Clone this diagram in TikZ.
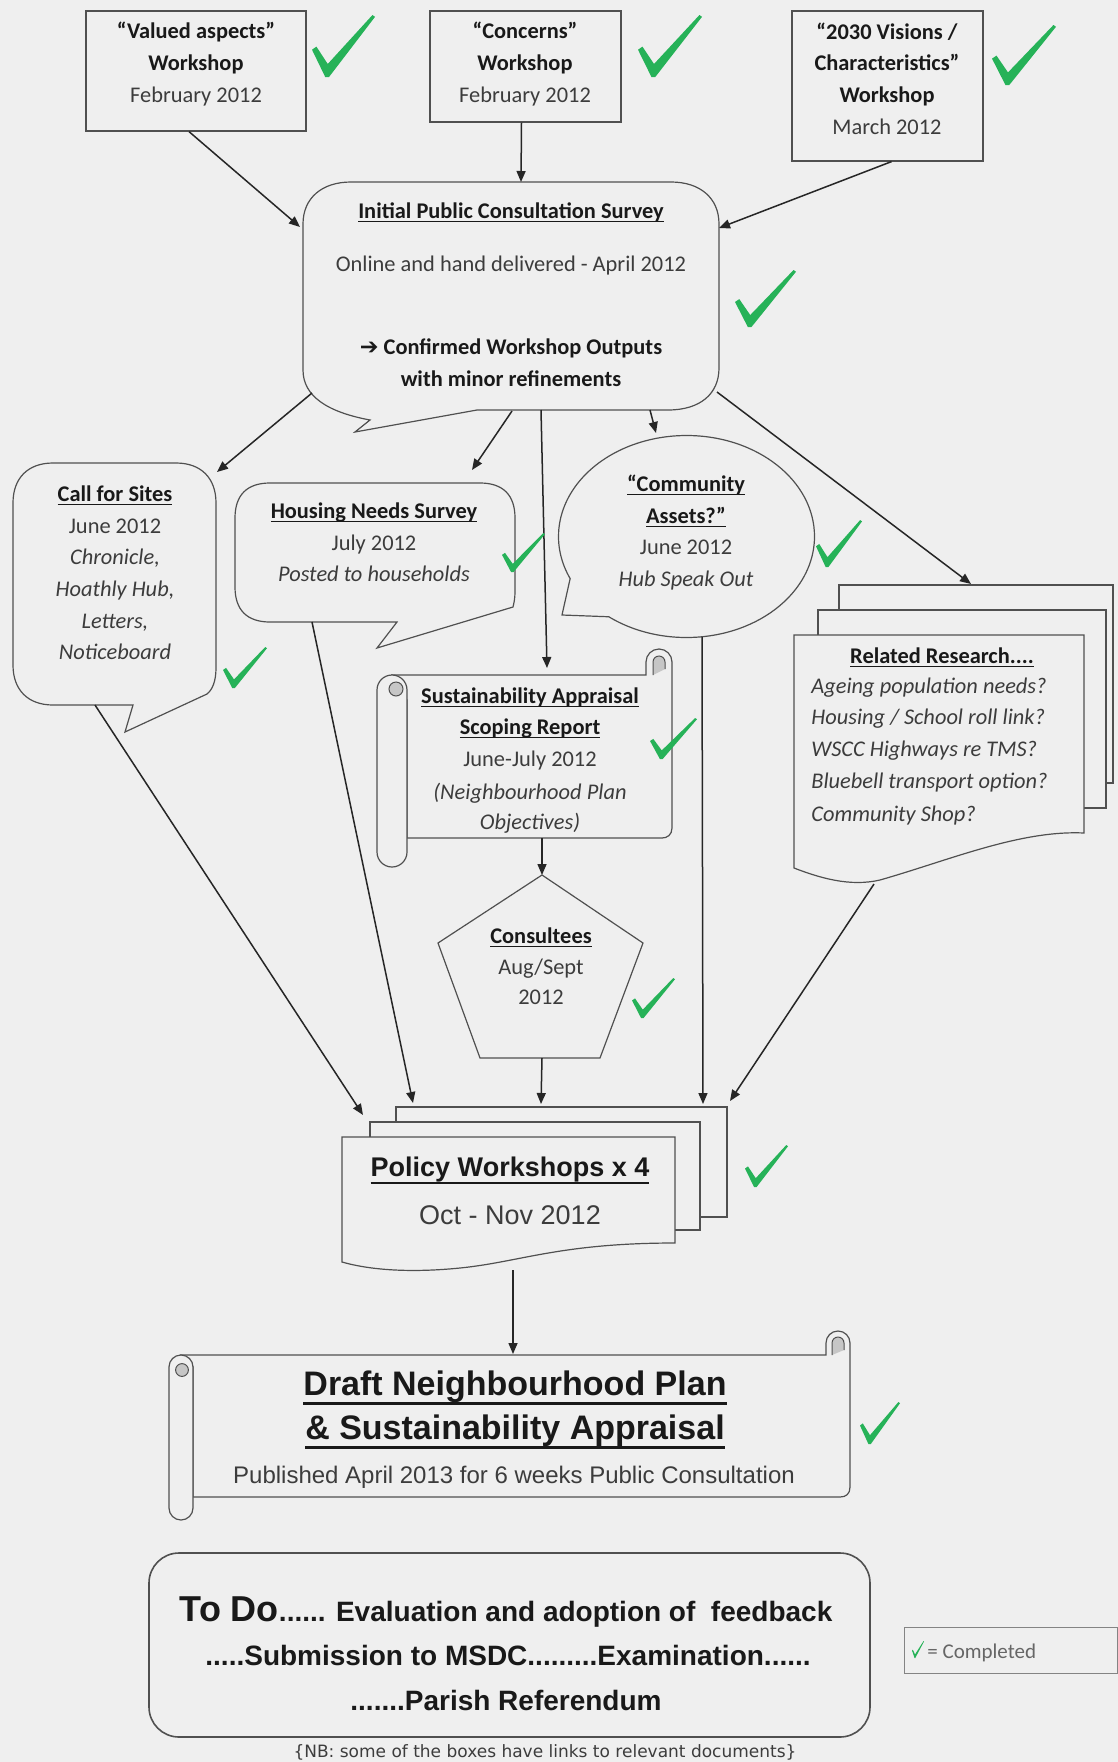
\documentclass[tikz,border=0pt]{standalone}
\usepackage{fontspec}
\setmainfont{Carlito}
\newfontfamily\arialf{Liberation Sans}
\newfontfamily\dejavu{DejaVu Sans}
\usetikzlibrary{arrows.meta,shapes.callouts,calc}
\definecolor{bg}{RGB}{239,239,239}
\definecolor{edge}{RGB}{80,80,80}
\definecolor{tickgreen}{RGB}{38,178,88}
\definecolor{txt}{RGB}{60,60,60}
\newsavebox\ulbox
\newcommand\myul[3]{\sbox\ulbox{#3}\rlap{\rule[-#2]{\wd\ulbox}{#1}}\usebox\ulbox}
\newcommand\ulc[1]{\myul{0.55pt}{1.8pt}{#1}}
\newcommand\greencheck[4]{\begin{scope}[shift={(#1,#2)},xscale=#3,yscale=#4]
 \fill[tickgreen] (0,0.56) -- (0.07,0.51) -- (0.25,0.79) -- (0.96,0) -- (1,0.03) -- (0.27,1) -- (0.21,1) -- cycle;
 \end{scope}}
\begin{document}
\begin{tikzpicture}[x=0.5pt,y=-0.5pt,
  shp/.style={draw=edge, line width=0.6pt, fill=bg},
  conn/.style={draw=black!85, line width=0.75pt, -{Triangle[length=5.5pt,width=4.5pt]}},
  hid/.style={inner sep=0pt, outer sep=0pt, draw=none},
  tx/.style={anchor=base, inner sep=0pt, text=txt, font=\fontsize{11.2}{13}\selectfont},
  txb/.style={anchor=base, inner sep=0pt, text=black!90, font=\fontsize{11.2}{13}\selectfont\bfseries},
  txi/.style={anchor=base, inner sep=0pt, text=txt, font=\fontsize{11.2}{13}\selectfont\itshape},
  ar/.style={anchor=base, inner sep=0pt, text=black!90, font=\fontsize{#1}{#1}\selectfont\arialf\bfseries},
  arr/.style={anchor=base, inner sep=0pt, text=txt, font=\fontsize{#1}{#1}\selectfont\arialf}
]
\fill[bg] (0,0) rectangle (1118,1762);
\useasboundingbox (0,0) rectangle (1118,1762);

% ---------- top workshop boxes ----------
\node[shp, minimum width=110pt, minimum height=60pt, inner sep=0pt] (box1) at (196,71) {};
\node[shp, minimum width=95.5pt, minimum height=55.5pt, inner sep=0pt] (box2) at (525.5,66.5) {};
\node[shp, minimum width=95.5pt, minimum height=75pt, inner sep=0pt] (box3) at (887.5,86) {};
\node[txb] (b1a) at (196,38) {“Valued aspects”};
\node[txb] (b1b) at (196,70) {Workshop};
\node[tx]  (b1c) at (196,102) {February 2012};
\node[txb] (b2a) at (525,38) {“Concerns”};
\node[txb] (b2b) at (525,70) {Workshop};
\node[tx]  (b2c) at (525,102) {February 2012};
\node[txb] (b3a) at (887,39) {“2030 Visions /};
\node[txb] (b3b) at (887,70) {Characteristics”};
\node[txb] (b3c) at (887,102) {Workshop};
\node[tx]  (b3d) at (887,134) {March 2012};

% ---------- survey callout ----------
\draw[shp] (351,182) -- (671,182) .. controls (700,182) and (719,198) .. (719,224) -- (719,368)
  .. controls (719,394) and (700,410) .. (668,410) -- (477,410) -- (355,432) -- (370,420)
  .. controls (327,412) and (303,396) .. (303,370) -- (303,224) .. controls (303,198) and (322,182) .. (351,182) -- cycle;
\node[hid, minimum width=208pt, minimum height=114pt] (survey) at (511,296) {};
\node[txb] (s1) at (511,218) {\ulc{Initial Public Consultation Survey}};
\node[tx]  (s2) at (511,271) {Online and hand delivered - April 2012};
\node[txb] (s3) at (511,354) {{\dejavu ➔} Confirmed Workshop Outputs};
\node[txb] (s4) at (511,386) {with minor refinements};

% ---------- call for sites ----------
\draw[shp] (53,463) -- (176,463) .. controls (201,463) and (216,478) .. (216,503) -- (216,668)
  .. controls (216,682) and (212,690) .. (207,694) -- (125,732) -- (133,705) -- (53,705)
  .. controls (28,705) and (13,690) .. (13,665) -- (13,503) .. controls (13,478) and (28,463) .. (53,463) -- cycle;
\node[hid, minimum width=101.5pt, minimum height=121pt] (call) at (114.5,584) {};
\node[txb] (c1) at (115,501) {\ulc{Call for Sites}};
\node[tx]  (c2) at (115,533) {June 2012};
\node[txi] (c3) at (115,564) {Chronicle,};
\node[txi] (c4) at (115,596) {Hoathly Hub,};
\node[txi] (c5) at (115,628) {Letters,};
\node[txi] (c6) at (115,659) {Noticeboard};

% ---------- housing needs ----------
\draw[shp] (270,483) -- (480,483) .. controls (503,483) and (515,495) .. (515,518) -- (515,592)
  .. controls (515,598) and (514,603) .. (513,607) -- (377,648) -- (397,622) -- (270,622)
  .. controls (247,622) and (235,610) .. (235,587) -- (235,518) .. controls (235,495) and (247,483) .. (270,483) -- cycle;
\node[hid, minimum width=140pt, minimum height=69.5pt] (housing) at (375,552.5) {};
\node[txb] (h1) at (374,518) {\ulc{Housing Needs Survey}};
\node[tx]  (h2) at (374,550) {July 2012};
\node[txi] (h3) at (374,581) {Posted to households};

% ---------- community assets ----------
\node[ellipse callout, shp, minimum width=128pt, minimum height=101pt, inner sep=0pt,
  callout absolute pointer={(562,615)}, callout pointer arc=28] (assets) at (686.5,536.5) {};
\node[txb] (a1) at (686,491) {\ulc{“Community}};
\node[txb] (a2) at (686,523) {\ulc{Assets?”}};
\node[tx]  (a3) at (686,554) {June 2012};
\node[txi] (a4) at (686,586) {Hub Speak Out};

% ---------- related research stack ----------
\draw[shp] (839,585) rectangle (1113,783);
\draw[shp] (818,610) rectangle (1106,808);
\draw[shp] (794,635) -- (1084,635) -- (1084,833) .. controls (1020,830) and (950,860) .. (880,880)
  .. controls (850,887) and (820,878) .. (794,868) -- cycle;
\node[hid, minimum width=145pt, minimum height=117pt] (research) at (939,752) {};
\node[txb] (r0) at (942,663) {\ulc{Related Research....}};
\node[txi, anchor=base west] (r1) at (811,693) {Ageing population needs?};
\node[txi, anchor=base west] (r2) at (811,724) {Housing / School roll link?};
\node[txi, anchor=base west] (r3) at (811,756) {WSCC Highways re TMS?};
\node[txi, anchor=base west] (r4) at (811,788) {Bluebell transport option?};
\node[txi, anchor=base west] (r5) at (811,821) {Community Shop?};

% ---------- sustainability scroll ----------
\draw[shp] (392,675) -- (646,675) -- (646,662) arc (180:0:6.5pt) -- (672,828)
  .. controls (672,835) and (667,838) .. (662,838) -- (407,838) -- (407,700) -- cycle;
\filldraw[fill=gray!45, draw=edge, line width=0.5pt] (653,675) -- (653,662) arc (180:0:3pt) -- (665,669);
\draw[shp] (407,690) -- (407,852) arc (0:-180:7.5pt) -- (377,690) arc (180:0:7.5pt) -- cycle;
\filldraw[fill=gray!45, draw=edge, line width=0.5pt] (396,689) circle (3.5pt);
\node[hid, minimum width=147pt, minimum height=96pt] (scroll) at (524.5,771) {};
\node[txb] (sa1) at (530,703) {\ulc{Sustainability Appraisal}};
\node[txb] (sa2) at (530,734) {\ulc{Scoping Report}};
\node[tx]  (sa3) at (530,766) {June-July 2012};
\node[txi] (sa4) at (530,799) {(Neighbourhood Plan};
\node[txi] (sa5) at (530,829) {Objectives)};

% ---------- consultees pentagon ----------
\draw[shp] (542,875) -- (643,943) -- (600,1058) -- (480,1058) -- (438,943) -- cycle;
\node[hid, minimum width=102pt, minimum height=91pt] (pent) at (540,966) {};
\node[txb] (p1) at (541,943) {\ulc{Consultees}};
\node[tx]  (p2) at (541,974) {Aug/Sept};
\node[tx]  (p3) at (541,1004) {2012};

% ---------- policy workshops stack ----------
\draw[shp] (396,1107) rectangle (727,1217);
\draw[shp] (370,1122) rectangle (700,1230);
\draw[shp] (342,1137) -- (675,1137) -- (675,1243) .. controls (560,1243) and (520,1262) .. (460,1268)
  .. controls (410,1273) and (370,1270) .. (342,1262) -- cycle;
\node[hid, minimum width=166pt, minimum height=66pt] (policy) at (508,1203) {};
\node[ar=13.5] (pw1) at (510,1176) {\myul{1pt}{4pt}{Policy Workshops x 4}};
\node[arr=13.5] (pw2) at (510,1224) {Oct - Nov 2012};

% ---------- draft plan scroll ----------
\draw[shp] (181,1355) -- (826,1355) -- (826,1343) arc (180:0:6pt) -- (850,1487)
  .. controls (850,1494) and (846,1497) .. (840,1497) -- (193,1497) -- (193,1367) -- cycle;
\filldraw[fill=gray!45, draw=edge, line width=0.5pt] (832,1355) -- (832,1343) arc (180:0:3pt) -- (844,1350);
\draw[shp] (193,1367) -- (193,1508) arc (0:-180:6pt) -- (169,1367) arc (180:0:6pt) -- cycle;
\filldraw[fill=gray!45, draw=edge, line width=0.5pt] (182,1370) circle (3.2pt);
\node[hid, minimum width=334pt, minimum height=77pt] (draft) at (509,1430) {};
\node[ar=17] (d1) at (515,1395) {\myul{1.4pt}{5pt}{Draft Neighbourhood Plan}};
\node[ar=17] (d2) at (515,1439) {\myul{1.4pt}{5pt}{\& Sustainability Appraisal}};
\node[arr=12] (d3) at (514,1483) {Published April 2013 for 6 weeks Public Consultation};

% ---------- to do box ----------
\node[draw=edge, line width=0.8pt, fill=bg, rounded corners=15pt, minimum width=360.5pt, minimum height=92pt] (todo) at (509.5,1645) {};
\node[ar=14] (td1) at (506,1621) {{\fontsize{18}{18}\selectfont To Do}...... Evaluation and adoption of \ feedback};
\node[ar=14] (td2) at (508,1665) {.....Submission to MSDC.........Examination......};
\node[ar=14] (td3) at (506,1710) {.......Parish Referendum};

% ---------- legend and note ----------
\node[draw=edge!70, line width=0.5pt, minimum width=106.5pt, minimum height=23pt, inner sep=0pt] (legend) at (1010.5,1650) {};
\node[tx, anchor=base west, text=gray!80!black, font=\fontsize{10.5}{12}\selectfont] (lg) at (927,1658) {= Completed};
\node[anchor=base, inner sep=0pt, text=txt, font=\fontsize{8.5}{10}\selectfont\dejavu] (nb) at (545,1757) {\{NB: some of the boxes have links to relevant documents\}};

% ---------- attachment points ----------
\coordinate (svA) at (300,227);
\coordinate (svB) at (521,182);
\coordinate (svC) at (719,228);
\coordinate (svD) at (312,393);
\coordinate (svE) at (512,411);
\coordinate (svF) at (541,410);
\coordinate (svG) at (650,410);
\coordinate (svH) at (717,392);
\coordinate (callIn) at (217,472);
\coordinate (callOut) at (95,705);
\coordinate (housIn) at (472,470);
\coordinate (housOut) at (312,622);
\coordinate (scrIn) at (547,668);
\coordinate (scrOut) at (542,838);
\coordinate (penIn) at (542,875);
\coordinate (penOut) at (542,1058);
\coordinate (asIn) at (656,433);
\coordinate (asOut) at (702,637);
\coordinate (resIn) at (971,584);
\coordinate (resOut) at (874,884);
\coordinate (polA) at (363,1115);
\coordinate (polB) at (413,1103);
\coordinate (polC) at (541,1104);
\coordinate (polD) at (703,1104);
\coordinate (polE) at (730,1101);
\coordinate (polOut) at (513,1270);
\coordinate (drIn) at (513,1354);

% ---------- connectors ----------
\draw[conn] ($(box1.south)+(-7,0)$) -- (svA);
\draw[conn] ($(box2.south)+(-4,0)$) -- (svB);
\draw[conn] ($(box3.south)+(4,0)$) -- (svC);
\draw[conn] (svD) -- (callIn);
\draw[conn] (svE) -- (housIn);
\draw[conn] (svF) -- (scrIn);
\draw[conn] (svG) -- (asIn);
\draw[conn] (svH) -- (resIn);
\draw[conn] (callOut) -- (polA);
\draw[conn] (housOut) -- (polB);
\draw[conn] (scrOut) -- (penIn);
\draw[conn] (penOut) -- (polC);
\draw[conn] (asOut) -- (polD);
\draw[conn] (resOut) -- (polE);
\draw[conn] (polOut) -- (drIn);

% ---------- green ticks ----------
\greencheck{312}{15}{63}{62}
\greencheck{638}{15}{64}{62}
\greencheck{992}{25}{64}{60}
\greencheck{735}{270}{61}{57}
\greencheck{223}{647}{44}{41}
\greencheck{502}{533}{43}{39}
\greencheck{816}{520}{46}{47}
\greencheck{650}{718}{47}{41}
\greencheck{632}{978}{43}{40}
\greencheck{745}{1145}{43}{42}
\greencheck{860}{1402}{40}{42}
\greencheck{912}{1641}{12}{17}
\end{tikzpicture}
\end{document}
